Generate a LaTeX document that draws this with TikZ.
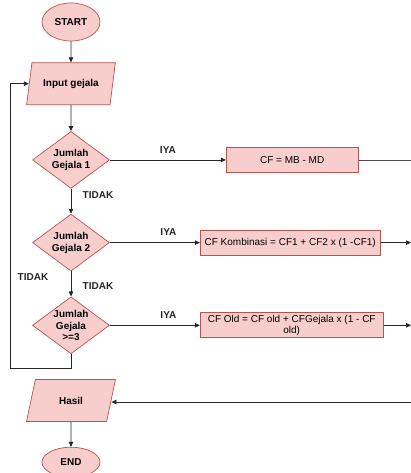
\documentclass[tikz,border=0pt]{standalone}
\usepackage{fontspec}
\setmainfont{Liberation Sans}
\usetikzlibrary{arrows.meta,positioning,shapes.geometric}

\definecolor{flowfill}{HTML}{F8CECC}
\definecolor{flowline}{HTML}{B85450}

\tikzset{
  base/.style={draw=flowline, fill=flowfill, line width=0.7pt, align=center, inner sep=0pt,
    font=\bfseries\fontsize{10}{12}\selectfont},
  terminal/.style={base, ellipse, minimum width=58pt, minimum height=38pt},
  io/.style={base, trapezium, trapezium left angle=68, trapezium right angle=112,
    trapezium stretches=true, minimum width=89pt, minimum height=42pt},
  decision/.style={base, diamond, aspect=1.35, minimum width=77pt, minimum height=57pt},
  process/.style={base, rectangle, inner sep=2pt, minimum height=25pt,
    font=\fontsize{10}{11}\selectfont},
  arr/.style={draw=black!85, line width=0.7pt, -{Triangle[length=5pt,width=4.5pt]}},
  plain/.style={draw=black!70, line width=0.7pt},
  lbl/.style={font=\bfseries\fontsize{10}{12}\selectfont, text=black!85}
}

\begin{document}
\begin{tikzpicture}[x=1pt, y=-1pt]
  \useasboundingbox (0,0) rectangle (411,473);

  \node[terminal] (start) at (71,22) {START};
  \node[io, below=21pt of start] (input) {Input gejala};
  \node[decision, below=26pt of input] (jml1) {Jumlah\\Gejala 1};
  \node[decision, below=25pt of jml1] (jml2) {Jumlah\\Gejala 2};
  \node[decision, below=25pt of jml2] (jml3) {Jumlah\\Gejala\\[-1pt]>=3};
  \node[io, below=25pt of jml3] (hasil) {Hasil};
  \node[terminal, minimum height=30pt, below=25pt of hasil] (end) {END};

  \node[process, minimum width=132pt, right=116pt of jml1] (cf1) {CF = MB - MD};
  \node[process, minimum width=180pt, right=90pt of jml2] (cf2) {CF Kombinasi = CF1 + CF2 x (1 -CF1)};
  \node[process, minimum width=183pt, right=90pt of jml3] (cf3) {CF Old = CF old + CFGejala x (1 - CF\\old)};

  % free ends at the right border and the loop corner
  \coordinate (rim) at (411,0);
  \coordinate (back) at (411,402);
  \coordinate (loop) at (10,368);

  \draw[arr] (start) -- (input);
  \draw[arr] (input) -- (jml1);
  \draw[arr] (jml1) -- node[lbl, right=8pt, pos=0.24] {TIDAK} (jml2);
  \draw[arr] (jml2) -- node[lbl, right=8pt, pos=0.6] {TIDAK} (jml3);
  \draw[arr] (hasil) -- (end);

  \draw[arr] (jml1) -- node[lbl, above=3pt] {IYA} (cf1);
  \draw[arr] (jml2) -- node[lbl, above=3pt, pos=0.65] {IYA} (cf2);
  \draw[arr] (jml3) -- node[lbl, above=3pt, pos=0.65] {IYA} (cf3);

  \draw[plain] (cf1) -- (cf1 -| rim);
  \draw[arr] (cf2) -- (cf2 -| rim);
  \draw[arr] (cf3) -- (cf3 -| rim);
  \draw[arr] (back) -- (back -| hasil.east);

  \draw[arr] (jml3.south) |- (loop) |- node[lbl, pos=0.16, right=4pt] {TIDAK} (input);
\end{tikzpicture}
\end{document}
